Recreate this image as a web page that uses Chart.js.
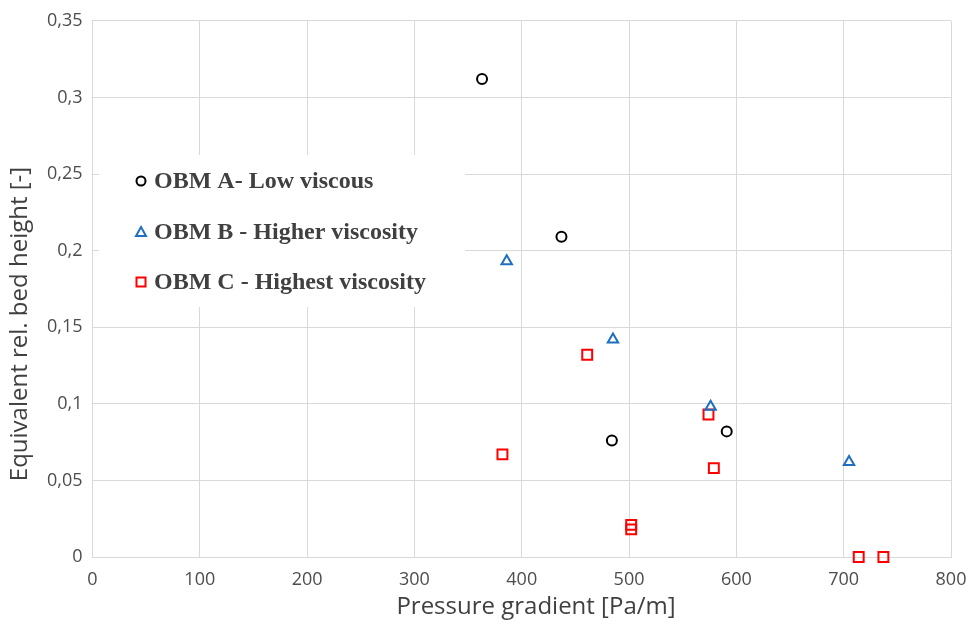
<!DOCTYPE html>
<html>
<head>
<meta charset="utf-8">
<script src="https://cdn.jsdelivr.net/npm/chart.js@4/dist/chart.umd.min.js"></script>
<style>
  html, body { margin: 0; padding: 0; background: #fff; }
  #wrap { width: 969px; height: 624px; }
</style>
</head>
<body>
<div id="wrap"><canvas id="chart"></canvas></div>
<script>
// pressure gradient [Pa/m] vs equivalent relative bed height
const seriesNames = ['OBM A- Low viscous', 'OBM B - Higher viscosity', 'OBM C - Highest viscosity'];

const obmA_x = [363, 437, 484, 591];
const obmA_y = [0.312, 0.209, 0.076, 0.082];

const obmB_x = [386, 485, 576, 705];
const obmB_y = [0.193, 0.142, 0.098, 0.062];

const obmC_x = [382, 461, 502, 502, 574, 579, 714, 737];
const obmC_y = [0.067, 0.132, 0.021, 0.018, 0.093, 0.058, 0, 0];

const xTicks = [0, 100, 200, 300, 400, 500, 600, 700, 800];
const yTicks = [0, 0.05, 0.1, 0.15, 0.2, 0.25, 0.3, 0.35];

const xTitle = 'Pressure gradient [Pa/m]';
const yTitle = 'Equivalent rel. bed height [-]';

const colors = ['#000000', '#1f6fc0', '#ff0000'];
const shapes = ['circle', 'triangle', 'rect'];
const radii = [5, 6, 7];

function pts(xs, ys) {
  return xs.map((x, i) => ({ x: x, y: ys[i] }));
}

const comma = v => String(v).replace('.', ',');

// white legend box sitting over the grid, plus the two axis titles
const decor = {
  id: 'decor',
  beforeDatasetsDraw(chart) {
    const ctx = chart.ctx;
    ctx.save();
    ctx.fillStyle = '#ffffff';
    ctx.fillRect(99, 155, 366, 152);
    ctx.font = 'bold 24px "Liberation Serif"';
    ctx.textBaseline = 'middle';
    const rows = [181, 232, 282];
    seriesNames.forEach((name, i) => {
      const y = rows[i], x = 141;
      ctx.strokeStyle = colors[i];
      ctx.lineWidth = 2;
      ctx.beginPath();
      if (shapes[i] === 'circle') {
        ctx.arc(x, y, 4.5, 0, Math.PI * 2);
      } else if (shapes[i] === 'triangle') {
        ctx.moveTo(x, y - 5);
        ctx.lineTo(x + 5, y + 4);
        ctx.lineTo(x - 5, y + 4);
        ctx.closePath();
      } else {
        ctx.rect(x - 4.5, y - 4.5, 9, 9);
      }
      ctx.stroke();
      ctx.fillStyle = '#404040';
      ctx.fillText(name, 154, y + 1);
    });
    ctx.restore();
  },
  afterDraw(chart) {
    const ctx = chart.ctx;
    ctx.save();
    ctx.fillStyle = '#404040';
    ctx.font = '24px "Open Sans"';
    ctx.textAlign = 'center';
    ctx.textBaseline = 'middle';
    ctx.fillText(xTitle, 536, 607);
    ctx.translate(20, 324);
    ctx.rotate(-Math.PI / 2);
    ctx.fillText(yTitle, 0, 0);
    ctx.restore();
  }
};

const ds = (label, data, i) => ({
  label: label,
  data: data,
  showLine: false,
  clip: false,
  pointStyle: shapes[i],
  pointRadius: radii[i],
  pointHoverRadius: radii[i],
  pointBorderWidth: 2,
  pointBackgroundColor: 'rgba(255,255,255,0)',
  pointBorderColor: colors[i],
  borderColor: colors[i]
});

new Chart(document.getElementById('chart'), {
  type: 'scatter',
  data: {
    datasets: [
      ds(seriesNames[0], pts(obmA_x, obmA_y), 0),
      ds(seriesNames[1], pts(obmB_x, obmB_y), 1),
      ds(seriesNames[2], pts(obmC_x, obmC_y), 2)
    ]
  },
  options: {
    responsive: true,
    maintainAspectRatio: false,
    animation: false,
    layout: { padding: { top: 19, right: 18, left: 0, bottom: 0 } },
    plugins: { legend: { display: false }, tooltip: { enabled: false } },
    scales: {
      x: {
        type: 'linear',
        min: 0, max: 800,
        afterBuildTicks: s => { s.ticks = xTicks.map(v => ({ value: v })); },
        afterFit: s => { s.height = 67; s.paddingRight = 0; s.paddingLeft = 0; },
        grid: { color: '#d9d9d9', lineWidth: 1, drawTicks: false },
        border: { color: '#d9d9d9' },
        ticks: { color: '#4d4d4d', font: { family: 'Open Sans', size: 18 }, padding: 12, maxRotation: 0 }
      },
      y: {
        type: 'linear',
        min: 0, max: 0.35,
        afterBuildTicks: s => { s.ticks = yTicks.map(v => ({ value: v })); },
        afterFit: s => { s.width = 92.5; },
        grid: { color: '#d9d9d9', lineWidth: 1, drawTicks: false },
        border: { color: '#d9d9d9' },
        ticks: { color: '#4d4d4d', font: { family: 'Open Sans', size: 18 }, padding: 10, callback: v => comma(v) }
      }
    }
  },
  plugins: [decor]
});
</script>
</body>
</html>
